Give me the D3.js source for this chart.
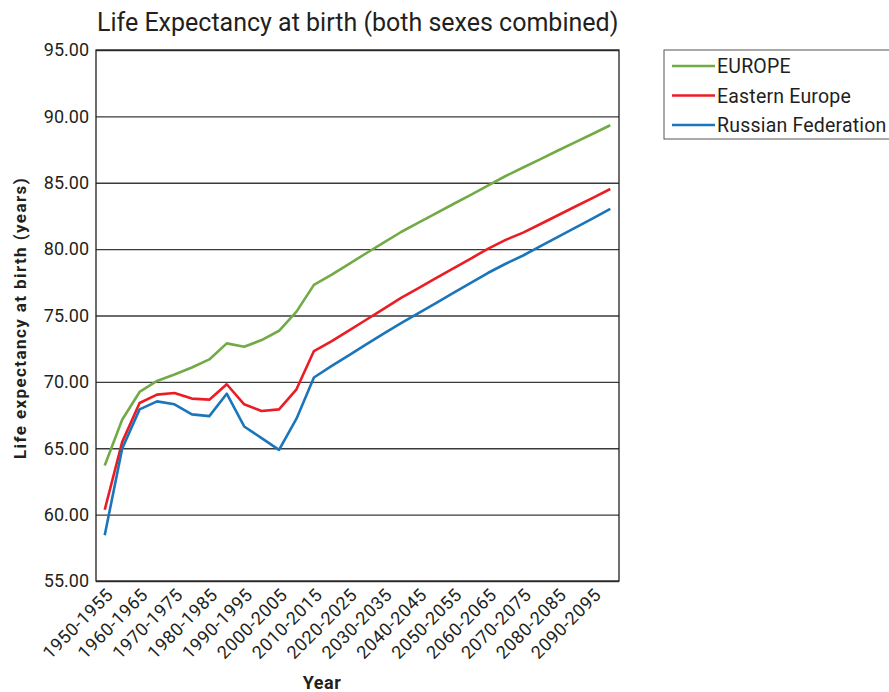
<!DOCTYPE html>
<html>
<head>
<meta charset="utf-8">
<script src="https://cdn.jsdelivr.net/npm/d3@7"></script>
<style>
  body { margin: 0; background: #fff; }
  text { font-family: Roboto, "Noto Sans", sans-serif; fill: #231f20; }
</style>
</head>
<body>
<script>
var outerWidth = 889, outerHeight = 692;

// 5-year periods (every other one is labelled)
var periods = ["1950-1955", "1955-1960", "1960-1965", "1965-1970", "1970-1975", "1975-1980",
  "1980-1985", "1985-1990", "1990-1995", "1995-2000", "2000-2005", "2005-2010",
  "2010-2015", "2015-2020", "2020-2025", "2025-2030", "2030-2035", "2035-2040",
  "2040-2045", "2045-2050", "2050-2055", "2055-2060", "2060-2065", "2065-2070",
  "2070-2075", "2075-2080", "2080-2085", "2085-2090", "2090-2095", "2095-2100"];

var europe = [63.70, 67.15, 69.24, 70.07, 70.55, 71.08, 71.69, 72.90, 72.64, 73.15,
  73.85, 75.29, 77.31, 78.06, 78.87, 79.69, 80.49, 81.29, 81.99, 82.70,
  83.40, 84.09, 84.81, 85.51, 86.15, 86.78, 87.43, 88.06, 88.69, 89.33];

var easternEurope = [60.37, 65.46, 68.41, 69.04, 69.16, 68.74, 68.66, 69.82, 68.31, 67.80,
  67.93, 69.44, 72.32, 73.05, 73.86, 74.68, 75.50, 76.33, 77.07, 77.82,
  78.55, 79.29, 80.04, 80.70, 81.24, 81.89, 82.55, 83.21, 83.86, 84.53];

var russia = [58.45, 64.96, 67.93, 68.53, 68.31, 67.55, 67.42, 69.11, 66.64, 65.76,
  64.88, 67.23, 70.33, 71.19, 72.00, 72.83, 73.64, 74.43, 75.18, 75.94,
  76.70, 77.46, 78.22, 78.90, 79.52, 80.22, 80.93, 81.62, 82.31, 83.04];

var seriesNames = ["EUROPE", "Eastern Europe", "Russian Federation"];
var seriesColors = ["#72ab46", "#ec1c24", "#1b75bb"];
var yTicks = [55, 60, 65, 70, 75, 80, 85, 90, 95];

var margin = { top: 50, right: 270, bottom: 111, left: 96 };
var width = outerWidth - margin.left - margin.right,
  height = outerHeight - margin.top - margin.bottom;

var x = d3.scalePoint()
  .domain(periods)
  .range([0, width])
  .padding(0.5);

var y = d3.scaleLinear()
  .domain([55, 95])
  .range([height, 0]);

var svg = d3.select("body").append("svg")
  .attr("width", outerWidth)
  .attr("height", outerHeight);

var g = svg.append("g")
  .attr("transform", "translate(" + margin.left + "," + margin.top + ")");

// gridlines + y labels
var yAxis = d3.axisLeft(y)
  .tickValues(yTicks)
  .tickSize(-width)
  .tickPadding(7)
  .tickFormat(d3.format(".2f"));

var yg = g.append("g").call(yAxis);
yg.select(".domain").remove();
yg.selectAll("line").attr("stroke", "#3a3a3a").attr("stroke-width", 1.3);
yg.selectAll("text").style("font-size", "18px").attr("fill", "#231f20");

// plot frame
g.append("rect")
  .attr("width", width)
  .attr("height", height)
  .attr("fill", "none")
  .attr("stroke", "#231f20")
  .attr("stroke-width", 1.3);

// x labels, every other period
var xAxis = d3.axisBottom(x)
  .tickValues(periods.filter(function (d, i) { return i % 2 === 0; }))
  .tickSize(0);

var xg = g.append("g")
  .attr("transform", "translate(0," + height + ")")
  .call(xAxis);
xg.select(".domain").remove();
xg.selectAll("text")
  .style("font-size", "18px")
  .style("letter-spacing", "0.5px")
  .attr("fill", "#231f20")
  .attr("text-anchor", "end")
  .attr("dy", null)
  .attr("y", 0)
  .attr("transform", "translate(9,15) rotate(-45)");

var line = d3.line()
  .x(function (d, i) { return x(periods[i]); })
  .y(function (d) { return y(d); });

[europe, easternEurope, russia].forEach(function (vals, k) {
  g.append("path")
    .datum(vals)
    .attr("d", line)
    .attr("fill", "none")
    .attr("stroke", seriesColors[k])
    .attr("stroke-width", 2.6)
    .attr("stroke-linejoin", "round");
});

// title and axis titles
svg.append("text")
  .attr("x", 97)
  .attr("y", 31)
  .style("font-size", "25px")
  .text("Life Expectancy at birth (both sexes combined)");

svg.append("text")
  .attr("transform", "translate(26,318) rotate(-90)")
  .attr("text-anchor", "middle")
  .style("font-size", "17px")
  .style("letter-spacing", "1.4px")
  .style("font-weight", "bold")
  .text("Life expectancy at birth (years)");

svg.append("text")
  .attr("x", 322)
  .attr("y", 689)
  .attr("text-anchor", "middle")
  .style("font-size", "18px")
  .style("letter-spacing", "0.5px")
  .style("font-weight", "bold")
  .text("Year");

// legend
var legend = svg.append("g").attr("transform", "translate(664,50)");
legend.append("rect")
  .attr("width", 240)
  .attr("height", 89)
  .attr("fill", "#fff")
  .attr("stroke", "#555")
  .attr("stroke-width", 1);

seriesNames.forEach(function (name, k) {
  var ly = 16 + k * 29.5;
  legend.append("line")
    .attr("x1", 8).attr("x2", 51)
    .attr("y1", ly).attr("y2", ly)
    .attr("stroke", seriesColors[k])
    .attr("stroke-width", 2.6);
  legend.append("text")
    .attr("x", 53)
    .attr("y", ly + 7)
    .style("font-size", "19.5px")
    .style("letter-spacing", "0.2px")
    .text(name);
});
</script>
</body>
</html>
